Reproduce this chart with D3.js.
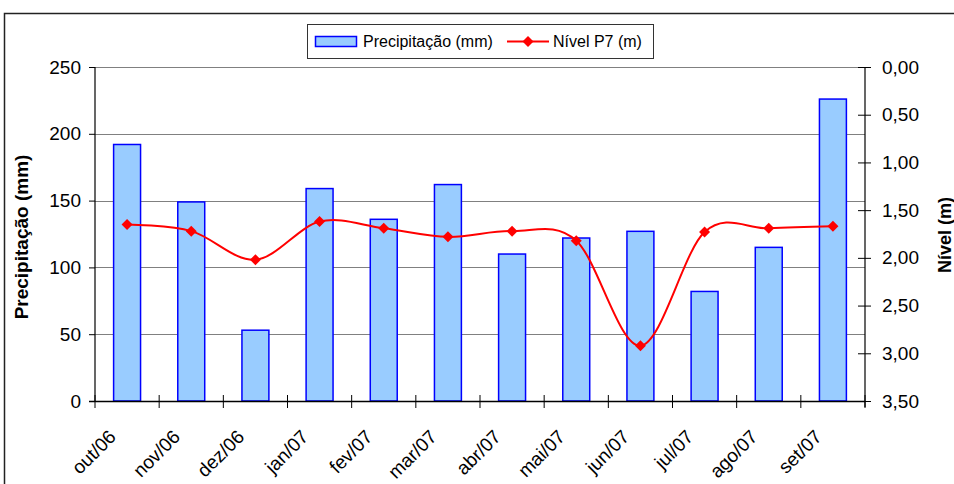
<!DOCTYPE html>
<html>
<head>
<meta charset="utf-8">
<script src="https://cdn.jsdelivr.net/npm/d3@7/dist/d3.min.js"></script>
<style>
  html, body { margin: 0; padding: 0; background: #fff; }
  svg { display: block; font-family: Arial, "Liberation Sans", sans-serif; }
</style>
</head>
<body>
<svg id="chart" width="954" height="484"></svg>
<script>
// Monthly rainfall and groundwater level at well P7
const months = ["out/06","nov/06","dez/06","jan/07","fev/07","mar/07","abr/07","mai/07","jun/07","jul/07","ago/07","set/07"];
const precipitacao = [192, 149, 53, 159, 136, 162, 110, 122, 127, 82, 115, 226];
const nivelP7 = [1.65, 1.72, 2.02, 1.62, 1.69, 1.78, 1.72, 1.82, 2.92, 1.73, 1.69, 1.67];
const leftTicks = [0, 50, 100, 150, 200, 250];
const rightTicks = [0, 0.5, 1, 1.5, 2, 2.5, 3, 3.5];

const svg = d3.select("#chart");
const plot = { left: 95, right: 865, top: 67, bottom: 401 };

const x = d3.scaleBand().domain(months).range([plot.left, plot.right]).paddingInner(0.58).paddingOuter(0.29);
const xb = d3.scaleBand().domain(months).range([plot.left, plot.right]);
const yL = d3.scaleLinear().domain([0, 250]).range([plot.bottom, plot.top]);
const yR = d3.scaleLinear().domain([0, 3.5]).range([plot.top, plot.bottom]);
const fmtR = v => d3.format(".2f")(v).replace(".", ",");

// outer chart frame
svg.append("rect").attr("x", 4.5).attr("y", 13.5).attr("width", 1000).attr("height", 520)
  .attr("fill", "none").attr("stroke", "#222").attr("stroke-width", 1.5);

// horizontal gridlines
svg.append("g").selectAll("line").data(leftTicks.filter(d => d > 0)).join("line")
  .attr("x1", plot.left).attr("x2", plot.right)
  .attr("y1", d => Math.round(yL(d)) + 0.5).attr("y2", d => Math.round(yL(d)) + 0.5)
  .attr("stroke", "#808080").attr("stroke-width", 1.2);

// bars
svg.append("g").selectAll("rect").data(precipitacao).join("rect")
  .attr("x", (d, i) => x(months[i]))
  .attr("y", d => yL(d))
  .attr("width", x.bandwidth())
  .attr("height", d => yL(0) - yL(d))
  .attr("fill", "#99ccff").attr("stroke", "#0000ff").attr("stroke-width", 1.5);

// left axis
const axL = svg.append("g").attr("transform", `translate(${plot.left},0)`)
  .call(d3.axisLeft(yL).tickValues(leftTicks).tickSize(6).tickPadding(8).tickFormat(d3.format("d")));
axL.select(".domain").attr("stroke", "#000").attr("stroke-width", 1.2).attr("d", `M0,${plot.top}V${plot.bottom}`);
axL.selectAll(".tick line").attr("stroke", "#000");
axL.selectAll("text").attr("font-size", 19).attr("fill", "#000").attr("font-family", "Arial, 'Liberation Sans', sans-serif");

// right axis (inverted level)
const axR = svg.append("g").attr("transform", `translate(${plot.right},0)`)
  .call(d3.axisRight(yR).tickValues(rightTicks).tickSize(6).tickPadding(11).tickFormat(fmtR));
axR.select(".domain").attr("stroke", "#000").attr("stroke-width", 1.2).attr("d", `M0,${plot.top}V${plot.bottom + 6}`);
axR.selectAll(".tick line").attr("stroke", "#000").attr("x1", -7).attr("x2", 6);
axR.selectAll("text").attr("font-size", 19).attr("fill", "#000").attr("font-family", "Arial, 'Liberation Sans', sans-serif");

// category axis: ticks at band edges crossing the axis line
const gx = svg.append("g");
gx.append("line").attr("x1", plot.left - 6).attr("x2", plot.right).attr("y1", plot.bottom + 0.5).attr("y2", plot.bottom + 0.5)
  .attr("stroke", "#000").attr("stroke-width", 1.5);
gx.selectAll("line.tk").data(months.concat(["end"])).join("line").attr("class", "tk")
  .attr("x1", (d, i) => i < months.length ? xb(d) : plot.right)
  .attr("x2", (d, i) => i < months.length ? xb(d) : plot.right)
  .attr("y1", plot.bottom - 6).attr("y2", plot.bottom + 7)
  .attr("stroke", "#000").attr("stroke-width", 1);
gx.selectAll("text").data(months).join("text")
  .attr("transform", d => `translate(${xb(d) + xb.bandwidth() / 2 - 10},438) rotate(-45)`)
  .attr("text-anchor", "end").attr("font-size", 19).attr("fill", "#000")
  .text(d => d);

// level line, smoothed
const line = d3.line()
  .x((d, i) => xb(months[i]) + xb.bandwidth() / 2)
  .y(d => yR(d))
  .curve(d3.curveCardinal.tension(0));
svg.append("path").datum(nivelP7).attr("d", line)
  .attr("fill", "none").attr("stroke", "#ff0000").attr("stroke-width", 2);
svg.append("g").selectAll("path").data(nivelP7).join("path")
  .attr("transform", (d, i) => `translate(${xb(months[i]) + xb.bandwidth() / 2},${yR(d)})`)
  .attr("d", "M0,-5.5L5.5,0L0,5.5L-5.5,0Z")
  .attr("fill", "#ff0000");

// axis titles
svg.append("text").attr("transform", "translate(28,237) rotate(-90)")
  .attr("text-anchor", "middle").attr("font-size", 19).attr("font-weight", "bold")
  .text("Precipitação (mm)");
svg.append("text").attr("transform", "translate(951,235) rotate(-90)")
  .attr("text-anchor", "middle").attr("font-size", 18).attr("font-weight", "bold")
  .text("Nível (m)");

// legend
const lg = svg.append("g");
lg.append("rect").attr("x", 307.5).attr("y", 24.5).attr("width", 346).attr("height", 34)
  .attr("fill", "#fff").attr("stroke", "#333").attr("stroke-width", 1);
lg.append("rect").attr("x", 315.5).attr("y", 36.5).attr("width", 41).attr("height", 10)
  .attr("fill", "#99ccff").attr("stroke", "#0000ff").attr("stroke-width", 1.5);
lg.append("text").attr("x", 363).attr("y", 47).attr("font-size", 16).text("Precipitação (mm)");
lg.append("line").attr("x1", 507).attr("x2", 549).attr("y1", 41.5).attr("y2", 41.5)
  .attr("stroke", "#ff0000").attr("stroke-width", 2);
lg.append("path").attr("transform", "translate(528,41.5)").attr("d", "M0,-5.5L5.5,0L0,5.5L-5.5,0Z").attr("fill", "#ff0000");
lg.append("text").attr("x", 553).attr("y", 47).attr("font-size", 16).text("Nível P7 (m)");
</script>
</body>
</html>
